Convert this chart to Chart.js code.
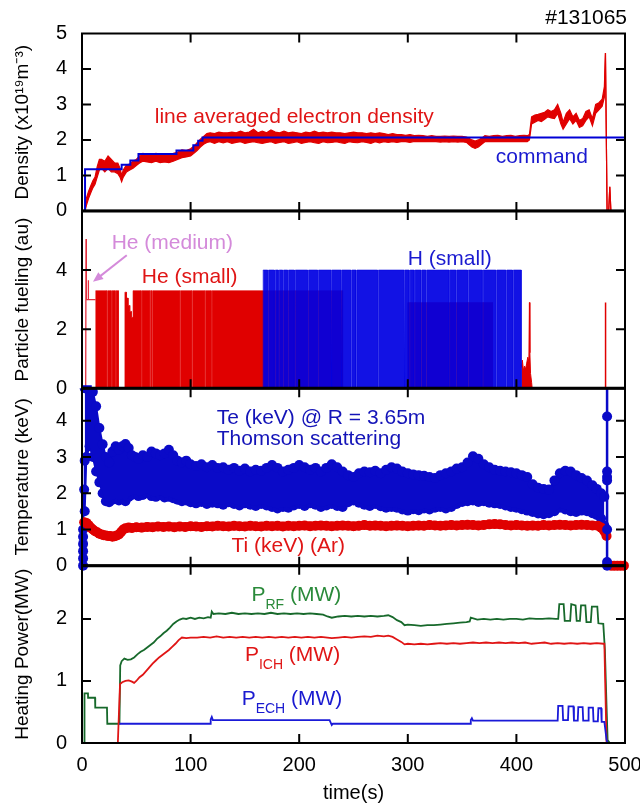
<!DOCTYPE html>
<html><head><meta charset="utf-8">
<script src="https://cdn.jsdelivr.net/npm/chart.js@4.4.1/dist/chart.umd.min.js"></script>
<style>html,body{margin:0;padding:0;background:#fff}canvas{display:block}</style>
</head><body>
<canvas id="c" width="640" height="805"></canvas>
<script>
// ================= DATA =================
// Panel 1: line averaged electron density (band: low / high edge) and command
const neT  = [0,2.8,4,6,8,10,12,14,16,18, 21,24,27,30,33,35,36.5,38,41,44, 47,50,53,56,60,64,68,72,76,80, 84,88,92,96,100,103,106,109,112,115, 118,122,126,130,134,138,142,146,150,154, 158,162,166,170,174,178,182,186,190,194, 198,202,206,210,214,218,222,226,230,234, 238,242,246,250,254,258,262,266,270,274, 278,282,286,290,294,298,302,306,310,314, 318,322,326,330,334,338,342,346,350,354, 356,359,362,365,368,371,375,379,383,387, 391,395,399,403,407,410,412,414,417,420, 423,426,429,432,435,438,441,443,446,449, 452,455,458,461,464,467,470,473,476,479, 481,482,483.5,485,486,487,500];
const neLo = [0,0,0.15,0.35,0.5,0.65,0.75,0.95,1.15,1.2, 1.1,1.2,1.1,1.1,1.05,0.95,0.82,0.95,1.1,1.15, 1.2,1.28,1.35,1.4,1.38,1.36,1.4,1.36,1.38,1.36, 1.4,1.45,1.5,1.52,1.55,1.62,1.7,1.8,1.88,1.93, 1.95,1.9,1.95,1.92,1.95,1.9,1.93,1.95,1.9,1.93, 1.95,1.92,1.9,1.93,1.95,1.9,1.93,1.95,1.9,1.92, 1.95,1.9,1.93,1.95,1.92,1.9,1.95,1.92,1.93,1.95, 1.92,1.9,1.95,1.93,1.92,1.95,1.93,1.9,1.95,1.92, 1.95,1.93,1.95,1.93,1.95,1.95,1.93,1.96,1.95,1.96, 1.95,1.96,1.95,1.94,1.95,1.94,1.95,1.94,1.95,1.93, 1.88,1.8,1.76,1.8,1.88,1.95,1.96,1.95,1.96,1.95, 1.96,1.95,1.96,1.95,1.96,1.95,2.0,2.45,2.5,2.55, 2.52,2.58,2.65,2.62,2.6,2.75,2.45,2.3,2.45,2.6, 2.45,2.55,2.35,2.4,2.55,2.65,2.4,2.75,2.85,2.95, 3.2,4.45,0,0,0.68,0,0];
const neHi = [0,0,0.35,0.55,0.7,0.85,0.95,1.25,1.45,1.45, 1.4,1.55,1.45,1.35,1.35,1.2,1.0,1.15,1.3,1.32, 1.4,1.45,1.55,1.62,1.6,1.58,1.62,1.6,1.58,1.6, 1.62,1.65,1.72,1.7,1.75,1.82,1.92,2.02,2.1,2.18, 2.2,2.18,2.22,2.2,2.2,2.22,2.2,2.25,2.2,2.22, 2.3,2.2,2.25,2.2,2.28,2.22,2.2,2.25,2.2,2.22, 2.2,2.18,2.22,2.2,2.25,2.2,2.22,2.2,2.22,2.2, 2.2,2.18,2.2,2.22,2.2,2.2,2.18,2.2,2.18,2.2, 2.18,2.15,2.18,2.15,2.15,2.13,2.15,2.12,2.13,2.12, 2.1,2.12,2.1,2.1,2.11,2.1,2.11,2.1,2.1,2.08, 2.05,2.0,1.97,2.0,2.05,2.12,2.1,2.12,2.13,2.1, 2.12,2.13,2.1,2.12,2.13,2.12,2.15,2.65,2.7,2.72, 2.75,2.78,2.85,2.8,2.85,3.0,2.75,2.5,2.75,2.85, 2.65,2.75,2.55,2.6,2.8,2.85,2.6,3.0,3.05,3.15, 3.5,4.45,0,0,0.68,0,0];
const cmdT = [0,2.8,2.8,36.5,36.5,44.5,44.5,52,52,87,87,102.5,102.5,107,107,111,111,500];
const cmdV = [0,0,1.17,1.17,1.3,1.3,1.42,1.42,1.6,1.6,1.7,1.7,1.85,1.85,1.98,1.98,2.07,2.07];

// Panel 2: particle fueling pulse trains (levels, switch times, gap times)
const heSegT = [12.6,33.5,39.5,41,42.5,44,45.5,47,240,300,378];
const heSegV = [3.3,0,3.25,3.05,2.8,2.6,2.4,3.3,0,2.9,0];
const heEnd = 404.5;
const heGapT = [23.3,27.3,31.0,54.9,62.6,64.8,90.2,101.6,113.2,119.4];
const hSegT = [166.8];
const hSegV = [4.0];
const hEnd = 404.5;
const hGapT = [171.4,177.6,181.2,185.2,189.8,196,208.2,217.4,229.7,238.9,248,252.7,272.6,297,301.7,306.3,312.5,317,338.5,344.7,355.4,369,381.5,390.7,396.8];
const gapWidth = 0.8;
const heMedT = [3.4,3.7,4.0,5.6,5.8,6.0,12.6];
const heMedV = [0,5.05,3.0,3.0,3.65,3.0,3.0];
const heTailT = [404.5,405.5,406.5,407.5,408.5,409.5,410.5,411.5,412,412.4,413,414,414.5];
const heTailV = [0.7,0.95,0.6,0.75,0.65,0.85,1.05,0.9,2.9,1.2,0.5,0.2,0];
const heLateT = [481.8,482,482.2];
const heLateV = [0,2.9,0];
const hBotT = [0,9];
const hBotV = [0,0];

// Panel 3: Te band edges (Thomson), start/end points, Ti
const teT  = [2.5,4,7,10,13,16,19,22,25,28,31,34,37,40,43,46,49,52, 56,60,64,68,72,76,80,84,88,92,96,100, 105,110,115,120,125,130,135,140,145,150, 155,160,165,170,175,180,185,190,195,200, 205,210,215,220,225,230,235,240,245,250, 255,260,265,270,275,280,285,290,295,300, 305,310,315,320,325,330,335,340,345,350, 355,360,365,370,375,380,385,390,395,400, 405,410,415,420,425,430,435,440,445,450, 455,460,465,470, 474,478,481];
const teHi = [4.9,4.9,4.9,4.8,4.4,3.8,3.35,3.0,2.85,3.15,3.3,3.2,3.3,3.36,3.25,3.05,3.0,2.95, 3.05,3.0,3.15,3.1,3.05,3.1,3.2,3.05,2.9,2.85,2.9,2.8, 2.75,2.8,2.72,2.78,2.7,2.72,2.65,2.7,2.62,2.68, 2.6,2.65,2.62,2.7,2.78,2.7,2.6,2.65,2.7,2.78, 2.72,2.65,2.7,2.6,2.7,2.8,2.72,2.6,2.5,2.45, 2.55,2.6,2.58,2.62,2.55,2.65,2.72,2.68,2.6,2.55, 2.52,2.5,2.48,2.45,2.42,2.5,2.55,2.6,2.68,2.72, 2.85,3.02,2.95,2.8,2.72,2.65,2.62,2.6,2.58,2.55, 2.5,2.45,2.25,2.15,2.12,2.1,2.35,2.55,2.62,2.6, 2.5,2.42,2.35,2.22, 2.12,2.0,1.9];
const teLo = [1.5,3.0,3.3,3.0,2.6,2.3,2.0,1.78,1.75,1.82,1.85,1.8,1.85,1.78,1.9,1.95,1.98,1.92, 1.95,2.0,1.92,1.9,1.95,1.88,1.9,1.86,1.82,1.78,1.8,1.75, 1.72,1.76,1.7,1.74,1.72,1.68,1.75,1.7,1.66,1.72, 1.68,1.65,1.7,1.66,1.62,1.58,1.62,1.6,1.66,1.7, 1.65,1.72,1.68,1.62,1.66,1.7,1.65,1.62,1.75,1.8, 1.74,1.68,1.65,1.7,1.64,1.6,1.62,1.6,1.55,1.52, 1.56,1.53,1.58,1.55,1.6,1.62,1.58,1.62,1.7,1.76, 1.78,1.8,1.76,1.78,1.74,1.72,1.7,1.66,1.62,1.6, 1.56,1.52,1.48,1.44,1.42,1.45,1.5,1.6,1.55,1.5, 1.48,1.52,1.5,1.45, 1.4,1.3,1.1];
const teStartT = [1,1,1,1,1,1,2,2.5];
const teStartV = [0,0.2,0.4,0.6,0.8,1.0,2.1,2.9];
const teEndT = [483.5,483.5,483.5,483.5,483.5,483.5,483.5,483.5];
const teEndV = [0,0.1,1.0,2.35,2.45,2.6,4.12,4.9];
const tiT = [2,4,6,8,10,12,14,16,18,20,22,24,26,28,30,32,34,36,38,40,43,46, 50,55,60,65,70,75,80,85,90,95, 100,105,110,115,120,125,130,135,140,145, 150,155,160,165,170,175,180,185,190,195, 200,205,210,215,220,225,230,235,240,245, 250,255,260,265,270,275,280,285,290,295, 300,305,310,315,320,325,330,335,340,345, 350,355,360,365,370,375,380,385,390,395, 400,405,410,415,420,425,430,435,440,445, 450,455,460,465,470,475, 478,481,483,485,487,490,493,496,499];
const tiV = [1.2,1.18,1.12,1.05,1.0,0.95,0.92,0.88,0.86,0.84,0.83,0.82,0.82,0.8,0.81,0.83,0.86,0.93,1.0,1.03,1.05,1.04, 1.06,1.05,1.07,1.06,1.08,1.07,1.08,1.06,1.08,1.07, 1.09,1.08,1.07,1.09,1.08,1.1,1.09,1.08,1.1,1.09, 1.08,1.1,1.09,1.08,1.1,1.09,1.1,1.08,1.1,1.09, 1.1,1.11,1.09,1.1,1.11,1.1,1.09,1.1,1.11,1.1, 1.09,1.1,1.12,1.1,1.11,1.1,1.09,1.1,1.11,1.1, 1.09,1.1,1.11,1.1,1.12,1.11,1.1,1.11,1.12,1.11, 1.12,1.13,1.12,1.11,1.12,1.14,1.15,1.14,1.12,1.11, 1.12,1.11,1.1,1.11,1.1,1.12,1.11,1.12,1.13,1.12, 1.11,1.12,1.13,1.12,1.11,1.1, 1.05,0.95,0.82,null,0,0,0,0,0];

// Panel 4: heating power
const prfT = [0,2,2.3,5.5,5.6,12,12.2,23,23.3,34.5, 35.2,36.5,39,42,45,48,51,54,57,60, 63,66,69,72,75,78,81,84,87,90, 93,96,100,104,108,112,116,118.5,119.5,121, 126,132,138,144,150,156,162,168,174,180, 186,192,198,204,210,216,222,226,230,236, 242,248,254,260,266,272,278,282,286,290, 294,297,300,306,312,318,324,330,336,342, 348,354,357,358,364,370,376,382,388,394, 400,406,412,418,424,430,436,438.5,439.5,443.5, 444.5,449.5,450.5,454.5,455.5,458.5,459.5,463.5,464.5,468.5, 469.5,474.5,475.5,480,481.5,483,484,486];
const prfV = [0,0,0.8,0.8,0.73,0.73,0.57,0.57,0.31,0.31, 1.25,1.32,1.36,1.34,1.35,1.38,1.43,1.47,1.5,1.54, 1.58,1.62,1.68,1.72,1.77,1.81,1.86,1.92,1.96,1.99, 2.01,2.0,2.02,2.0,2.02,2.01,2.03,2.02,2.12,2.08, 2.09,2.08,2.1,2.08,2.09,2.08,2.09,2.08,2.1,2.08, 2.09,2.08,2.09,2.08,2.09,2.08,2.07,2.04,2.02,2.04, 2.05,2.04,2.05,2.04,2.05,2.04,2.05,2.06,2.03,1.98, 1.95,1.9,1.91,1.9,1.89,1.9,1.9,1.91,1.92,1.93, 1.94,1.95,1.96,2.02,1.99,2.0,1.99,2.0,1.99,2.0, 2.0,1.99,2.01,2.0,2.0,2.01,2.0,2.0,2.24,2.24, 1.97,1.97,2.24,2.22,1.97,1.97,2.22,2.22,1.95,1.95, 2.2,2.2,1.93,1.92,1.5,0.6,0.05,0];
const pichT = [33,35,37,40,43,46,48,50,53,56, 59,62,65,68,71,74,77,80,83,86, 89,92,96,100,106,112,118,124,130,136, 142,148,154,160,166,172,178,184,190,196, 202,208,214,220,226,230,236,242,248,254, 260,266,272,278,282,286,290,294,297,300, 306,312,318,324,330,336,342,348,354,360, 366,372,378,384,390,396,402,408,414,420, 426,432,438,444,450,456,462,468,474,480, 481,482,483];
const pichV = [0,0.95,0.98,1.0,1.01,0.99,0.97,1.0,1.06,1.1, 1.16,1.22,1.28,1.33,1.38,1.42,1.46,1.5,1.55,1.6, 1.66,1.7,1.69,1.7,1.7,1.71,1.7,1.72,1.7,1.71, 1.7,1.71,1.7,1.71,1.7,1.71,1.7,1.71,1.7,1.71, 1.7,1.71,1.7,1.71,1.7,1.69,1.7,1.71,1.7,1.71, 1.72,1.71,1.73,1.72,1.73,1.71,1.67,1.63,1.59,1.6, 1.59,1.6,1.59,1.6,1.61,1.6,1.61,1.6,1.61,1.62, 1.61,1.62,1.61,1.62,1.61,1.62,1.61,1.62,1.6,1.61, 1.62,1.6,1.61,1.6,1.61,1.6,1.61,1.6,1.61,1.6, 1.6,0.8,0];
const pechT = [34.5,118,118.5,119.5,120.5,228,229,230,231,357.5, 358,359,360,438,438.5,442.5,443,447.5,448,452.5, 453,456.5,457,461,461.5,466,466.5,470.5,471,475, 475.5,478,478.5,481,482,483,484];
const pechV = [0.31,0.31,0.38,0.42,0.37,0.37,0.33,0.29,0.31,0.31, 0.37,0.4,0.36,0.36,0.6,0.6,0.37,0.37,0.59,0.59, 0.36,0.36,0.58,0.58,0.36,0.36,0.57,0.57,0.35,0.35, 0.56,0.56,0.34,0.34,0.2,0.05,0];

// Axis ticks
const xTicks = [0,100,200,300,400,500];
const yTickMarks = {yD:[1,2,3,4], yF:[2,4], yT:[1,2,3,4], yP:[1,2]};

// ================= STYLE / LAYOUT =================
const FONT = "'Liberation Sans', Arial, Helvetica, sans-serif";
const RED = '#e00000', BLUE = '#0000d6', TEBLUE = '#0a0ac8', GREEN = '#17692b';
Chart.defaults.font.family = FONT;
Chart.defaults.color = '#000';

const P = (T, V) => T.map((t, i) => ({x: t, y: V[i]}));

// builds the drawable outline of a pulse train from its levels and gap times
function pulseTrain(segT, segV, tEnd, gaps, gw) {
  const valueAt = t => {
    if (t >= tEnd) return 0;
    let v = 0;
    for (let i = 0; i < segT.length; i++) if (t >= segT[i]) v = segV[i];
    for (const g of gaps) if (Math.abs(t - g) < gw / 2) return 0;
    return v;
  };
  const b = new Set([...segT, tEnd]);
  gaps.forEach(g => { b.add(g - gw / 2); b.add(g + gw / 2); });
  const pts = [];
  [...b].sort((a, c) => a - c).forEach(t => {
    pts.push({x: t, y: valueAt(t - 1e-6)});
    pts.push({x: t, y: valueAt(t + 1e-6)});
  });
  return pts;
}

const line = (data, axis, color, width, extra) => Object.assign({
  type: 'line', data, xAxisID: 'x', yAxisID: axis, borderColor: color, backgroundColor: color,
  borderWidth: width, pointRadius: 0, pointHoverRadius: 0, pointBorderWidth: 0, tension: 0, fill: false
}, extra || {});

const teClip = {left: 6, right: 6, top: 0, bottom: 8};
const datasets = [
  line(P(neT, neHi), 'yD', RED, 1.2, {fill: '+1', order: 3}),
  line(P(neT, neLo), 'yD', RED, 1.2, {order: 3}),
  line(P(cmdT, cmdV), 'yD', BLUE, 2, {order: 1}),
  line(pulseTrain(heSegT, heSegV, heEnd, heGapT.concat(hGapT), gapWidth), 'yF', RED, 0.6, {fill: 'origin', order: 6}),
  line(P(heMedT, heMedV), 'yF', '#e23040', 1.3, {order: 5}),
  line(P(heTailT, heTailV), 'yF', RED, 1, {fill: 'origin', order: 5}),
  line(P(heLateT, heLateV), 'yF', RED, 1.5, {order: 5}),
  line(pulseTrain(hSegT, hSegV, hEnd, hGapT, gapWidth), 'yF', 'rgba(0,0,226,0.93)', 0.6, {fill: 'origin', order: 4}),
  line(P(hBotT, hBotV), 'yF', BLUE, 6, {order: 2}),
  line(P(teT, teHi), 'yT', TEBLUE, 2, {fill: '+1', pointRadius: 5, pointBackgroundColor: TEBLUE, order: 8, clip: teClip}),
  line(P(teT, teLo), 'yT', TEBLUE, 2, {pointRadius: 5, pointBackgroundColor: TEBLUE, order: 8, clip: teClip}),
  line(P(teStartT, teStartV), 'yT', TEBLUE, 2, {pointRadius: 5, pointBackgroundColor: TEBLUE, order: 7, clip: teClip}),
  line(P(tiT, tiV), 'yT', RED, 9, {pointRadius: 5, pointBackgroundColor: RED, order: 6, spanGaps: false, clip: teClip}),
  line(P(teEndT, teEndV), 'yT', TEBLUE, 2.5, {pointRadius: c => (c.raw && c.raw.y >= 4.9) ? 0 : 5, pointBackgroundColor: TEBLUE, order: 1, clip: teClip}),
  line(P(prfT, prfV), 'yP', GREEN, 1.8, {order: 3}),
  line(P(pichT, pichV), 'yP', '#e01515', 1.8, {order: 2}),
  line(P(pechT, pechV), 'yP', '#1a1ad8', 1.8, {order: 1})
];

const annotations = [
  {axis: 'yD', t: 67, v: 2.65, parts: [['line averaged electron density']], color: '#e01515'},
  {axis: 'yD', t: 381, v: 1.52, parts: [['command']], color: '#1a1ad0'},
  {axis: 'yF', t: 27.3, v: 4.92, parts: [['He (medium)']], color: '#d48ada'},
  {axis: 'yF', t: 55, v: 3.77, parts: [['He (small)']], color: '#e01515'},
  {axis: 'yF', t: 300, v: 4.37, parts: [['H (small)']], color: '#1a1ad0'},
  {axis: 'yT', t: 124, v: 4.07, parts: [['Te (keV) @ R = 3.65m']], color: '#1414b8'},
  {axis: 'yT', t: 124, v: 3.49, parts: [['Thomson scattering']], color: '#1414b8'},
  {axis: 'yT', t: 137.7, v: 0.55, parts: [['Ti (keV) (Ar)']], color: '#e01515'},
  {axis: 'yP', t: 156, v: 2.39, parts: [['P'], ['RF', 1], [' (MW)']], color: '#2a8a3a'},
  {axis: 'yP', t: 150, v: 1.42, parts: [['P'], ['ICH', 1], [' (MW)']], color: '#e01515'},
  {axis: 'yP', t: 147, v: 0.70, parts: [['P'], ['ECH', 1], [' (MW)']], color: '#1a1ad0'}
];
const arrow = {axis: 'yF', from: [41.2, 4.5], to: [10.1, 3.6], color: '#d48ada'};

const decor = {
  id: 'decor',
  afterDraw(chart) {
    const ctx = chart.ctx, xs = chart.scales.x;
    ctx.save();
    ctx.strokeStyle = '#000';
    ctx.lineWidth = 2;
    for (const id of ['yD', 'yF', 'yT', 'yP']) {
      const ys = chart.scales[id];
      ctx.strokeRect(xs.left, ys.top, xs.right - xs.left, ys.bottom - ys.top);
      ctx.beginPath();
      for (const v of xTicks.slice(1, -1)) {
        const px = xs.getPixelForValue(v);
        ctx.moveTo(px, ys.top); ctx.lineTo(px, ys.top + 9);
        ctx.moveTo(px, ys.bottom); ctx.lineTo(px, ys.bottom - 9);
      }
      for (const v of yTickMarks[id]) {
        const py = ys.getPixelForValue(v);
        ctx.moveTo(xs.left, py); ctx.lineTo(xs.left + 9, py);
        ctx.moveTo(xs.right, py); ctx.lineTo(xs.right - 9, py);
      }
      ctx.stroke();
    }
    ctx.lineWidth = 3;
    ctx.beginPath();
    for (const id of ['yF', 'yT', 'yP']) {
      const ys = chart.scales[id];
      ctx.moveTo(xs.left, ys.top); ctx.lineTo(xs.right, ys.top);
    }
    ctx.stroke();

    // texts
    ctx.textBaseline = 'middle';
    ctx.textAlign = 'left';
    for (const L of annotations) {
      const ys = chart.scales[L.axis];
      let x = xs.getPixelForValue(L.t);
      const y = ys.getPixelForValue(L.v);
      ctx.fillStyle = L.color;
      for (const [txt, sub] of L.parts) {
        ctx.font = (sub ? '14px ' : '21px ') + FONT;
        ctx.fillText(txt, x, sub ? y + 10 : y);
        x += ctx.measureText(txt).width;
      }
    }
    // arrow
    const ay = chart.scales[arrow.axis];
    const x0 = xs.getPixelForValue(arrow.from[0]), y0 = ay.getPixelForValue(arrow.from[1]);
    const x1 = xs.getPixelForValue(arrow.to[0]), y1 = ay.getPixelForValue(arrow.to[1]);
    const ang = Math.atan2(y1 - y0, x1 - x0);
    ctx.strokeStyle = arrow.color; ctx.fillStyle = arrow.color; ctx.lineWidth = 2;
    ctx.beginPath(); ctx.moveTo(x0, y0);
    ctx.lineTo(x1 - 6 * Math.cos(ang), y1 - 6 * Math.sin(ang)); ctx.stroke();
    ctx.beginPath(); ctx.moveTo(x1, y1);
    ctx.lineTo(x1 - 11 * Math.cos(ang - 0.4), y1 - 11 * Math.sin(ang - 0.4));
    ctx.lineTo(x1 - 11 * Math.cos(ang + 0.4), y1 - 11 * Math.sin(ang + 0.4));
    ctx.closePath(); ctx.fill();
    // shot number
    ctx.fillStyle = '#000';
    ctx.font = '21px ' + FONT;
    ctx.textAlign = 'right';
    ctx.fillText('#131065', xs.right + 2, 18);
    ctx.restore();
  }
};

function yScale(min, max, step, title, hide) {
  return {
    type: 'linear', position: 'left', stack: 'panels', stackWeight: 1, min, max,
    ticks: {stepSize: step, includeBounds: false, autoSkip: false, padding: 15, color: '#000',
            font: {size: 20}, callback: v => (hide.includes(v) ? '' : String(v))},
    grid: {display: false, drawTicks: false}, border: {display: false},
    title: {display: true, text: title, color: '#000', font: {size: 19}, padding: {top: 11, bottom: 0}},
    afterFit: s => { s.width = 82; s.paddingTop = 0; s.paddingBottom = 0; }
  };
}

new Chart(document.getElementById('c'), {
  type: 'line',
  data: {datasets},
  options: {
    responsive: false, animation: false, devicePixelRatio: 1, events: [],
    layout: {padding: {left: 0, right: 15, top: 33.5, bottom: 0}},
    plugins: {legend: {display: false}, tooltip: {enabled: false}},
    scales: {
      x: {
        type: 'linear', position: 'bottom', min: xTicks[0], max: xTicks[xTicks.length - 1],
        ticks: {stepSize: 100, includeBounds: false, autoSkip: false, maxRotation: 0, padding: 10,
                color: '#000', font: {size: 20}},
        grid: {display: false, drawTicks: false}, border: {display: false},
        title: {display: true, text: 'time(s)', color: '#000', font: {size: 20}, padding: {top: 0, bottom: 0}},
        afterFit: s => { s.height = 62; s.paddingLeft = 0; s.paddingRight = 0; }
      },
      yP: yScale(0, 2.86, 1, 'Heating Power(MW)', []),
      yT: yScale(0, 4.9, 1, 'Temperature (keV)', []),
      yF: yScale(0, 6, 2, 'Particle fueling (au)', [6]),
      yD: yScale(0, 5, 1, 'Density (x10\u00b9\u2079m\u207b\u00b3)', [])
    }
  },
  plugins: [decor]
});
</script>
</body></html>
